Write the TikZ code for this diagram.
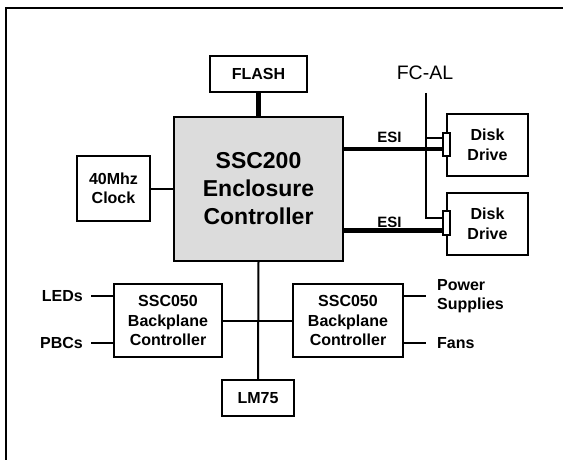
\documentclass[tikz,border=0pt]{standalone}
\usepackage{fontspec}
\setmainfont{Liberation Sans}
\tikzstyle{every picture}+=[font=\bfseries]
\tikzstyle{blk}=[draw, line width=2pt, align=center, inner sep=0pt, font=\bfseries\fontsize{16}{19.5}\selectfont]
\tikzstyle{lbl}=[inner sep=0pt, align=left, font=\bfseries\fontsize{16}{19.5}\selectfont]
\tikzstyle{wire}=[line width=2pt]
\tikzstyle{bus}=[line width=4.5pt]

\begin{document}
\begin{tikzpicture}[x=1pt, y=-1pt]
\definecolor{ctrlgray}{RGB}{220,220,220}
\useasboundingbox (0,0) rectangle (563,460);

%% Frame
\draw[line width=2pt] (6,460) -- (6,8) -- (563,8);

%% Main controller
\node[blk, fill=ctrlgray, minimum width=169pt, minimum height=144pt,
  font=\bfseries\fontsize{23}{28}\selectfont] (ssc200) at (258.5,189)
  {SSC200\\Enclosure\\Controller};
\node[blk, minimum width=97pt, minimum height=36pt] (flash) at (258.5,74) {FLASH};
\node[blk, minimum width=73pt, minimum height=65pt] (clock) at (113.5,188.5) {40Mhz\\Clock};

%% Disks
\node[blk, minimum width=81pt, minimum height=62pt] (disk1) at (487.5,145) {Disk\\Drive};
\node[blk, minimum width=81pt, minimum height=62pt] (disk2) at (487.5,224) {Disk\\Drive};
\node[blk, fill=white, minimum width=7pt, minimum height=23pt] (port1) at (446.5,144.5) {};
\node[blk, fill=white, minimum width=7pt, minimum height=24pt] (port2) at (446.5,223) {};

%% Backplane
\node[blk, minimum width=108pt, minimum height=73pt] (bpl) at (168,320.5) {SSC050\\Backplane\\Controller};
\node[blk, minimum width=110pt, minimum height=73pt] (bpr) at (348,320.5) {SSC050\\Backplane\\Controller};
\node[blk, minimum width=72pt, minimum height=36pt] (lm75) at (258,398) {LM75};

%% Labels
\node[font=\mdseries\fontsize{19.5}{22}\selectfont] (fcal) at (425,73) {FC-AL};
\node[inner sep=0pt, font=\bfseries\fontsize{15}{16}\selectfont] (esi1) at (389.5,137) {ESI};
\node[inner sep=0pt, font=\bfseries\fontsize{15}{16}\selectfont] (esi2) at (389.5,222) {ESI};
\node[lbl, anchor=east] (leds) at (83,296) {LEDs};
\node[lbl, anchor=east] (pbcs) at (83,343) {PBCs};
\node[lbl, anchor=west] (power) at (437,296) {Power\\Supplies};
\node[lbl, anchor=west] (fans) at (437,343) {Fans};

%% Points on the ports
\coordinate (fctop) at (426,93);
\coordinate (fc1) at (443,138);
\coordinate (fc2) at (443,218);
\coordinate (in1) at (443,149);
\coordinate (in2) at (443,230.5);

%% Connectors
\draw[bus] (flash.south) -- (ssc200.north);
\draw[bus] (in1 -| ssc200.east) -- (in1);
\draw[bus] (in2 -| ssc200.east) -- (in2);
\draw[wire] (clock.east) -- (clock.east -| ssc200.west);
\draw[wire] (fctop) |- (fc2);
\draw[wire] (fc1 -| fctop) -- (fc1);
\draw[wire] (ssc200.south) -- (lm75.north);
\draw[wire] (bpl.east) -- (bpr.west);
\draw[wire] ([xshift=8pt]leds.east) -- (leds.east -| bpl.west);
\draw[wire] ([xshift=8pt]pbcs.east) -- (pbcs.east -| bpl.west);
\draw[wire] (power.west -| bpr.east) -- ([xshift=-11pt]power.west);
\draw[wire] (fans.west -| bpr.east) -- ([xshift=-11pt]fans.west);
\end{tikzpicture}
\end{document}
